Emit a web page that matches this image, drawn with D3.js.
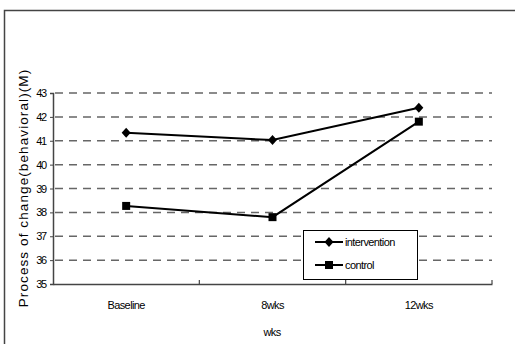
<!DOCTYPE html>
<html><head><meta charset="utf-8">
<script src="https://cdn.jsdelivr.net/npm/d3@7"></script>
<style>
body{margin:0;background:#fff;}
svg text{font-family:"Liberation Sans",Arial,sans-serif;fill:#000;}
</style></head>
<body><svg id="c" width="515" height="344"></svg>
<script>
const categories = ["Baseline","8wks","12wks"];
const intervention = [41.33, 41.03, 42.38];
const control = [38.27, 37.8, 41.8];
const yTicks = [35,36,37,38,39,40,41,42,43];
const seriesNames = ["intervention","control"];

const svg = d3.select("#c");
const m = {l:53, r:492, t:93, b:284};

// outer frame
svg.append("rect").attr("x",4.5).attr("y",10.5).attr("width",530).attr("height",360)
  .attr("fill","none").attr("stroke","#444").attr("stroke-width",1.5);

const x = d3.scaleBand().domain(categories).range([m.l,m.r]);
const y = d3.scaleLinear().domain([35,43]).range([m.b,m.t]);

// gridlines
svg.append("g").selectAll("line").data(yTicks.filter(d=>d>35)).join("line")
  .attr("x1",m.l+2).attr("x2",m.r).attr("y1",d=>y(d)).attr("y2",d=>y(d))
  .attr("stroke","#666").attr("stroke-width",1.5).attr("stroke-dasharray","8,6");

// y axis
const ya = svg.append("g").attr("transform",`translate(${m.l},0)`)
  .call(d3.axisLeft(y).tickValues(yTicks).tickSize(3).tickPadding(4));
ya.select(".domain").attr("stroke","#444").attr("stroke-width",1.5);
ya.selectAll(".tick line").attr("stroke","#444");
ya.selectAll("text").attr("font-size",11).attr("letter-spacing",-1.2);

// x axis
const xa = svg.append("g").attr("transform",`translate(0,${m.b})`)
  .call(d3.axisBottom(x).tickSize(0).tickPadding(17));
xa.select(".domain").attr("stroke","#444").attr("stroke-width",1.5);
xa.selectAll("text").attr("font-size",11).attr("letter-spacing",-0.6);
// category boundary ticks
const bounds = categories.map(c=>x(c)+x.bandwidth()).slice(0);
xa.append("g").selectAll("line").data(bounds).join("line")
  .attr("x1",d=>d).attr("x2",d=>d).attr("y1",0).attr("y2",-4)
  .attr("stroke","#444").attr("stroke-width",1.2);

// axis titles
svg.append("text").attr("x",272).attr("y",336).attr("text-anchor","middle")
  .attr("font-size",11).attr("letter-spacing",-0.6).text("wks");
svg.append("text").attr("transform","translate(28,188) rotate(-90)")
  .attr("text-anchor","middle").attr("font-size",13.5).attr("letter-spacing",1.1)
  .text("Process of change(behavioral)(M)");

const cx = d => x(d)+x.bandwidth()/2;
const line = d3.line().x(d=>cx(d.c)).y(d=>y(d.v));
const data = [intervention, control].map(arr=>categories.map((c,i)=>({c,v:arr[i]})));

const diamond = "M0,-5L4.5,0L0,5L-4.5,0Z";
const square = "M-4,-4H4V4H-4Z";

data.forEach((d,si)=>{
  svg.append("path").datum(d).attr("d",line).attr("fill","none")
    .attr("stroke","#000").attr("stroke-width",2);
  svg.append("g").selectAll("path").data(d).join("path")
    .attr("transform",p=>`translate(${cx(p.c)},${y(p.v)})`)
    .attr("d", si===0?diamond:square).attr("fill","#000");
});

// legend
const lg = svg.append("g");
lg.append("rect").attr("x",303.5).attr("y",230.5).attr("width",114).attr("height",49)
  .attr("fill","#fff").attr("stroke","#000").attr("stroke-width",1);
seriesNames.forEach((n,i)=>{
  const yy = 242 + i*23;
  lg.append("line").attr("x1",315).attr("x2",343).attr("y1",yy).attr("y2",yy)
    .attr("stroke","#000").attr("stroke-width",2);
  lg.append("path").attr("transform",`translate(329,${yy})`)
    .attr("d", i===0?diamond:square).attr("fill","#000");
  lg.append("text").attr("x",345).attr("y",yy+4).attr("font-size",11)
    .attr("letter-spacing",-0.6).text(n);
});
</script></body></html>
